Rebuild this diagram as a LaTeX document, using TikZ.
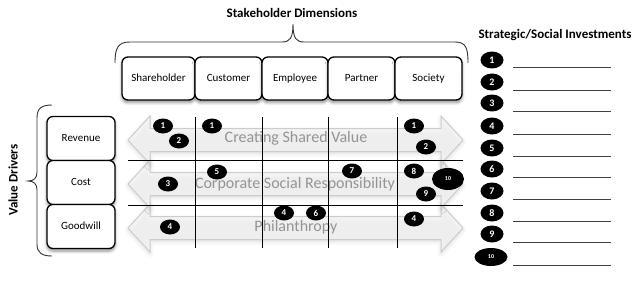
\documentclass[tikz,border=0pt]{standalone}
\usepackage{fontspec}
\setmainfont{Carlito}
\usetikzlibrary{shapes.geometric,shadows.blur}
\begin{document}
\begin{tikzpicture}[x=1pt,y=-1pt,
  hbox/.style={draw=black,line width=1.3pt,rounded corners=6pt,fill=white,
    minimum height=43pt,inner sep=0pt,outer sep=0pt,text height=8pt,text depth=2.5pt,
    font=\fontsize{11}{12}\selectfont,
    blur shadow={shadow blur steps=6,shadow xshift=0pt,shadow yshift=-2.5pt,shadow blur radius=3pt,shadow opacity=45}},
  vbox/.style={hbox,minimum width=68pt,minimum height=44pt},
  num/.style={ellipse,fill=black,text=white,inner sep=0pt,minimum width=20pt,minimum height=15pt,font=\fontsize{9}{9}\selectfont\bfseries},
  numten/.style={num,minimum width=32pt,minimum height=22pt,font=\fontsize{6}{6}\selectfont\bfseries},
  rnum/.style={num,minimum width=23pt,minimum height=17pt,font=\fontsize{10}{10}\selectfont\bfseries},
  rnumten/.style={rnum,minimum width=33pt,minimum height=18pt,font=\fontsize{6}{6}\selectfont\bfseries},
  bigarrow/.style={draw=black!20,line width=1pt,fill=black!3,fill opacity=0.7,
    blur shadow={shadow blur steps=6,shadow xshift=0pt,shadow yshift=-2pt,shadow blur radius=4pt,shadow opacity=15}},
  arrowtext/.style={text=black!42,font=\fontsize{16}{17}\selectfont},
  title/.style={font=\fontsize{13}{14}\selectfont\bfseries},
  gridline/.style={draw=black,line width=0.8pt},
  bracepath/.style={draw=black!80,line width=0.9pt},
  blank/.style={draw=black!75,line width=1pt}]
\useasboundingbox (0,0) rectangle (640,305);

% double arrows
\foreach \c in {228,184,140}{
  \path[bigarrow] (128,\c) -- (150,\c-24) -- (150,\c-11.5) -- (441,\c-11.5) -- (441,\c-24)
    -- (463,\c) -- (441,\c+24) -- (441,\c+11.5) -- (150,\c+11.5) -- (150,\c+24) -- cycle;
}
\node[arrowtext] (csv) at (296,138) {Creating Shared Value};
\node[arrowtext] (csr) at (295,184) {Corporate Social Responsibility};
\node[arrowtext] (phi) at (296,227) {Philanthropy};

% grid
\coordinate (gl1) at (128,160); \coordinate (gr1) at (463,160);
\coordinate (gl2) at (128,205); \coordinate (gr2) at (463,205);
\draw[gridline] (gl1) -- (gr1);
\draw[gridline] (gl2) -- (gr2);
\foreach \x in {195,262,328,397}{
  \draw[gridline] (\x,117) -- (\x,248);
}

% header
\node[title] (sd) at (292,13) {Stakeholder Dimensions};
\node[hbox,minimum width=73pt] (sh) at (158.5,78.5) {Shareholder};
\node[hbox,minimum width=67pt] (cu) at (228.5,78.5) {Customer};
\node[hbox,minimum width=66pt] (em) at (295,78.5) {Employee};
\node[hbox,minimum width=67pt] (pa) at (361.5,78.5) {Partner};
\node[hbox,minimum width=67pt] (so) at (428.5,78.5) {Society};
\draw[bracepath] (115,63) .. controls (115,48) and (118,42) .. (130,42) -- (282,42)
  .. controls (290,42) and (293,38) .. (293,24) .. controls (293,38) and (296,42) .. (304,42)
  -- (455,42) .. controls (466,42) and (468,48) .. (468,63);

% left
\node[vbox] (rev) at (81,138.5) {Revenue};
\node[vbox] (cost) at (81,182.5) {Cost};
\node[vbox] (gw) at (81,226.5) {Goodwill};
\draw[bracepath] (52,105) .. controls (42,105) and (37,108) .. (37,118) -- (37,172)
  .. controls (37,178) and (34,181) .. (28,181) .. controls (34,181) and (37,184) .. (37,190)
  -- (37,244) .. controls (37,253) and (42,256) .. (52,256);
\node[title,rotate=90] (vd) at (13,180) {Value Drivers};

% numbers in grid
\node[num] (a1) at (163,126) {1};
\node[num] (a2) at (179,141) {2};
\node[num] (b1) at (212,126) {1};
\node[num] (e1) at (414,126) {1};
\node[num] (e2) at (426,147) {2};
\node[num] (b5) at (217,172) {5};
\node[num] (a3) at (168,184) {3};
\node[num] (d7) at (352,171) {7};
\node[num] (e8) at (414,171) {8};
\node[numten] (e10) at (448,179) {10};
\node[num] (e9) at (426,194) {9};
\node[num] (c4) at (284,213) {4};
\node[num] (c6) at (316,213) {6};
\node[num] (a4) at (170,227) {4};
\node[num] (e4) at (414,219) {4};

% right column
\node[title] (ssi) at (555,35) {Strategic/Social Investments};
\foreach \n/\y in {1/60,2/82,3/103,4/126,5/148,6/169,7/191,8/213,9/234}{
  \node[rnum] (r\n) at (492,\y) {\n};
  \coordinate (ls\n) at (513,\y+8); \coordinate (le\n) at (611,\y+8);
  \draw[blank] (ls\n) -- (le\n);
}
\node[rnumten] (r10) at (491,257) {10};
\coordinate (ls10) at (513,265); \coordinate (le10) at (611,265);
\draw[blank] (ls10) -- (le10);
\end{tikzpicture}
\end{document}
